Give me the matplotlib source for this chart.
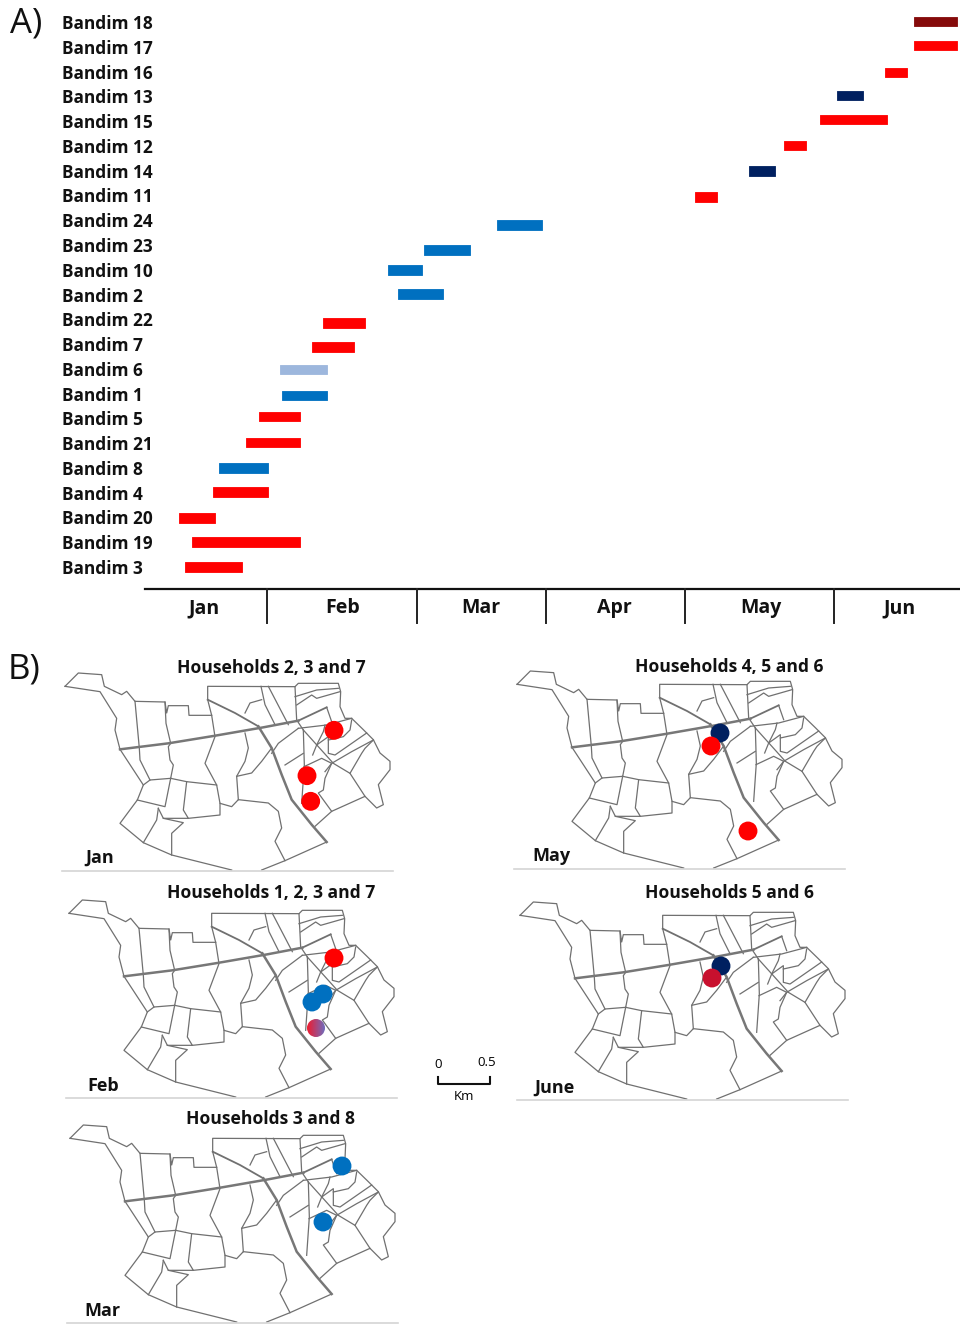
import matplotlib
matplotlib.use("Agg")
import numpy as np
from matplotlib import pyplot as plt
from matplotlib.colors import LinearSegmentedColormap
from matplotlib.patches import Circle

RED = "#ff0000"
BLUE = "#0070c0"
NAVY = "#002060"
LIGHT = "#9db7dd"
DARKRED = "#850a0a"

# gantt rows, bottom to top. start/end are in position units along the time axis
sites = ["Bandim 3", "Bandim 19", "Bandim 20", "Bandim 4", "Bandim 8", "Bandim 21",
         "Bandim 5", "Bandim 1", "Bandim 6", "Bandim 7", "Bandim 22", "Bandim 2",
         "Bandim 10", "Bandim 23", "Bandim 24", "Bandim 11", "Bandim 14", "Bandim 12",
         "Bandim 15", "Bandim 13", "Bandim 16", "Bandim 17", "Bandim 18"]
starts = [185, 192, 179, 213, 219, 246, 259, 282, 280, 312, 323, 398,
          388, 424, 497, 695, 749, 784, 820, 837, 885, 914, 914]
ends = [242, 300, 215, 268, 268, 300, 300, 327, 327, 354, 365, 443,
        422, 470, 542, 717, 775, 806, 887, 863, 907, 957, 957]
# the bars are not quite level with their labels in the original
bar_rows = [0, 1.01, 1.98, 3.03, 4.0, 5.01, 6.06, 6.94, 7.99, 8.88, 9.85, 11.02,
            11.99, 12.8, 13.81, 14.94, 15.99, 17.0, 18.05, 19.02, 19.98, 21.07, 22.02]
colors = [RED, RED, RED, RED, BLUE, RED, RED, BLUE, LIGHT, RED, RED, BLUE,
          BLUE, BLUE, BLUE, RED, NAVY, RED, RED, NAVY, RED, RED, DARKRED]

months = ["Jan", "Feb", "Mar", "Apr", "May", "Jun"]
month_edges = [145, 267, 417, 546, 685, 834, 960]
month_centers = [204, 343, 481, 614, 761, 900]

# map lines
thick_roads = [
    [(210, 298), (355, 280), (490, 258), (640, 232), (745, 212)],
    [(625, 229), (665, 294), (695, 374), (725, 449), (785, 524), (830, 576)],
]
medium_roads = [
    [(745, 212), (830, 172)],
    [(473, 149), (555, 189), (625, 229)],
]
map_lines = [
    # outline
    [(45, 109), (85, 69), (155, 74), (163, 109), (215, 134), (230, 124), (255, 154),
     (345, 156), (350, 189), (355, 167), (415, 167), (417, 196), (485, 196)],
    [(45, 109), (150, 125), (200, 205), (195, 240), (210, 298), (280, 405), (262, 450),
     (210, 520), (280, 578), (365, 615), (545, 660)],
    [(635, 660), (705, 632), (830, 576)],
    [(795, 529), (845, 484), (945, 439), (980, 474), (1000, 464), (985, 404), (1020, 359),
     (1020, 334), (990, 309), (970, 269), (940, 239), (905, 205), (885, 205), (870, 170),
     (872, 125), (865, 100), (745, 100), (735, 110), (473, 109), (473, 149)],
    # inside
    [(255, 154), (262, 230), (268, 295), (270, 330), (300, 390)],
    [(345, 156), (348, 220), (362, 280), (355, 290), (360, 330), (370, 345), (362, 385)],
    [(280, 405), (300, 390), (362, 385), (410, 395), (500, 405), (510, 460), (545, 470),
     (565, 449), (655, 459), (685, 484), (695, 534), (675, 574), (705, 632)],
    [(362, 385), (345, 470), (262, 450)],
    [(410, 395), (400, 480), (415, 505), (340, 505), (325, 475)],
    [(325, 475), (320, 510), (280, 578)],
    [(340, 505), (400, 518), (365, 550), (365, 615)],
    [(415, 505), (510, 495), (510, 460)],
    [(500, 405), (465, 340), (495, 260), (485, 196), (473, 149)],
    [(585, 249), (595, 294), (585, 334), (560, 379), (565, 449)],
    [(560, 379), (605, 369), (635, 334), (665, 294)],
    [(585, 189), (600, 159), (635, 149)],
    [(633, 109), (645, 164), (675, 224)],
    [(655, 109), (715, 224)],
    [(735, 110), (740, 210), (760, 240)],
    [(735, 140), (800, 120), (865, 115)],
    [(740, 165), (785, 135), (800, 145), (870, 125)],
    [(830, 172), (845, 215)],
    [(745, 235), (830, 225), (905, 205)],
    [(760, 240), (763, 345), (755, 460)],
    [(745, 235), (685, 280), (665, 310)],
    [(705, 345), (760, 310)],
    [(762, 350), (815, 325), (845, 340)],
    [(760, 240), (850, 340), (900, 370), (945, 439)],
    [(825, 225), (820, 245), (800, 285), (788, 315)],
    [(800, 285), (835, 260), (835, 310), (855, 315), (950, 249)],
    [(835, 270), (880, 260), (900, 240), (905, 210)],
    [(825, 365), (845, 340), (905, 305), (970, 270)],
    [(845, 340), (825, 385), (820, 420), (805, 429), (845, 484)],
    [(900, 370), (935, 310), (945, 295), (970, 270)],
]

# map panels
panel_titles = ["Households 2, 3 and 7", "Households 4, 5 and 6", "Households 1, 2, 3 and 7",
                "Households 5 and 6", "Households 3 and 8"]
panel_months = ["Jan", "May", "Feb", "June", "Mar"]
panel_dx = [0, 452, 4, 455, 5]
panel_dy = [0, -2, 227, 229, 452]
title_px = [271, 729, 271, 729, 271]
title_py = [673, 672, 898, 898, 1124]
month_px = [85, 532, 87, 534, 84]
month_py = [863, 861, 1091, 1093, 1316]
house_x = [[852, 771, 782], [654, 627, 738], [840, 807, 774], [648, 621], [861, 804]]
house_y = [[241, 377, 454], [255, 294, 549], [243, 351, 375], [261, 297], [192, 360]]
house_c = [[RED, RED, RED], [NAVY, RED, RED], [RED, BLUE, BLUE], [NAVY, "#c8102e"], [BLUE, BLUE]]
# house with both infections in the Feb panel
mixed_x = 786
mixed_y = 453

W, H = 960, 1324
FONT = "Open Sans"
INK = "#111111"


def px_axes(fig, left, top, width, height):
    return fig.add_axes([left / W, 1 - (top + height) / H, width / W, height / H])


def px_text(fig, x, y, s, size, **kw):
    fig.text(x / W, 1 - y / H, s, fontsize=size, family=FONT, color=INK, **kw)


def draw_gantt(fig):
    ax = px_axes(fig, 0, 0, W, 640)
    row = 24.77
    ax.set_xlim(0, W)
    ax.set_ylim((567 - 640) / row, 567 / row)
    ax.axis("off")

    widths = [e - s for s, e in zip(starts, ends)]
    ax.barh(bar_rows, widths, left=starts, height=0.37, color=colors, edgecolor=colors,
            linewidth=0.6, joinstyle="round")
    for i, name in enumerate(sites):
        ax.text(62, i - 7 / row, name, fontsize=12.4, fontweight="bold", family=FONT,
                color=INK, va="baseline", ha="left")

    base = -22 / row
    low = -56 / row
    ax.plot([month_edges[0], month_edges[-1]], [base, base], color=INK, lw=1.6)
    for edge in month_edges[1:-1]:
        ax.plot([edge, edge], [base, low], color="#222222", lw=1.4)
    for m, c in zip(months, month_centers):
        ax.text(c, -46 / row, m, fontsize=14, fontweight="bold", family=FONT, color=INK,
                ha="center", va="baseline")


def draw_panel(fig, i):
    dx, dy = panel_dx[i], panel_dy[i]
    ax = px_axes(fig, 50 + dx, 650 + dy, 360, 230)
    ax.set_xlim(0, 1080)
    ax.set_ylim(690, 0)
    ax.axis("off")

    for line in map_lines:
        xs, ys = zip(*line)
        ax.plot(xs, ys, color="#707070", lw=0.9)
    for road in medium_roads:
        xs, ys = zip(*road)
        ax.plot(xs, ys, color="#707070", lw=1.3)
    for road in thick_roads:
        xs, ys = zip(*road)
        ax.plot(xs, ys, color="#777777", lw=1.8)

    ax.plot([35, 1030], [662, 662], color="#d4d4d4", lw=1.2)
    ax.scatter(house_x[i], house_y[i], s=185, c=house_c[i], linewidths=0, zorder=3)
    if panel_months[i] == "Feb":
        cmap = LinearSegmentedColormap.from_list("mix", ["#ee1c30", "#6a70c4"])
        r = 27
        img = ax.imshow(np.linspace(0, 1, 32).reshape(1, -1), cmap=cmap, aspect="auto",
                        extent=(mixed_x - r, mixed_x + r, mixed_y + r, mixed_y - r), zorder=3)
        img.set_clip_path(Circle((mixed_x, mixed_y), r, transform=ax.transData))
        ax.set_xlim(0, 1080)
        ax.set_ylim(690, 0)

    px_text(fig, title_px[i], title_py[i], panel_titles[i], 12.6, fontweight="bold",
            ha="center", va="baseline")
    px_text(fig, month_px[i], month_py[i], panel_months[i], 13, fontweight="bold",
            ha="left", va="baseline")


def draw_scale(fig):
    ax = px_axes(fig, 420, 1040, 100, 70)
    ax.set_xlim(420, 520)
    ax.set_ylim(1110, 1040)
    ax.axis("off")
    ax.plot([438, 438, 490, 490], [1077, 1084, 1084, 1077], color=INK, lw=1.5)
    ax.text(438, 1065, "0", fontsize=9.5, family=FONT, ha="center", va="center")
    ax.text(487, 1063, "0.5", fontsize=9.5, family=FONT, ha="center", va="center")
    ax.text(464, 1096, "Km", fontsize=9.5, family=FONT, ha="center", va="center")


fig = plt.figure(figsize=(9.6, 13.24), dpi=100)
draw_gantt(fig)
for i in range(len(panel_titles)):
    draw_panel(fig, i)
draw_scale(fig)
px_text(fig, 10, 23, "A)", 25, va="center", ha="left")
px_text(fig, 8, 669, "B)", 25, va="center", ha="left")
fig.savefig("out.png", dpi=100)
